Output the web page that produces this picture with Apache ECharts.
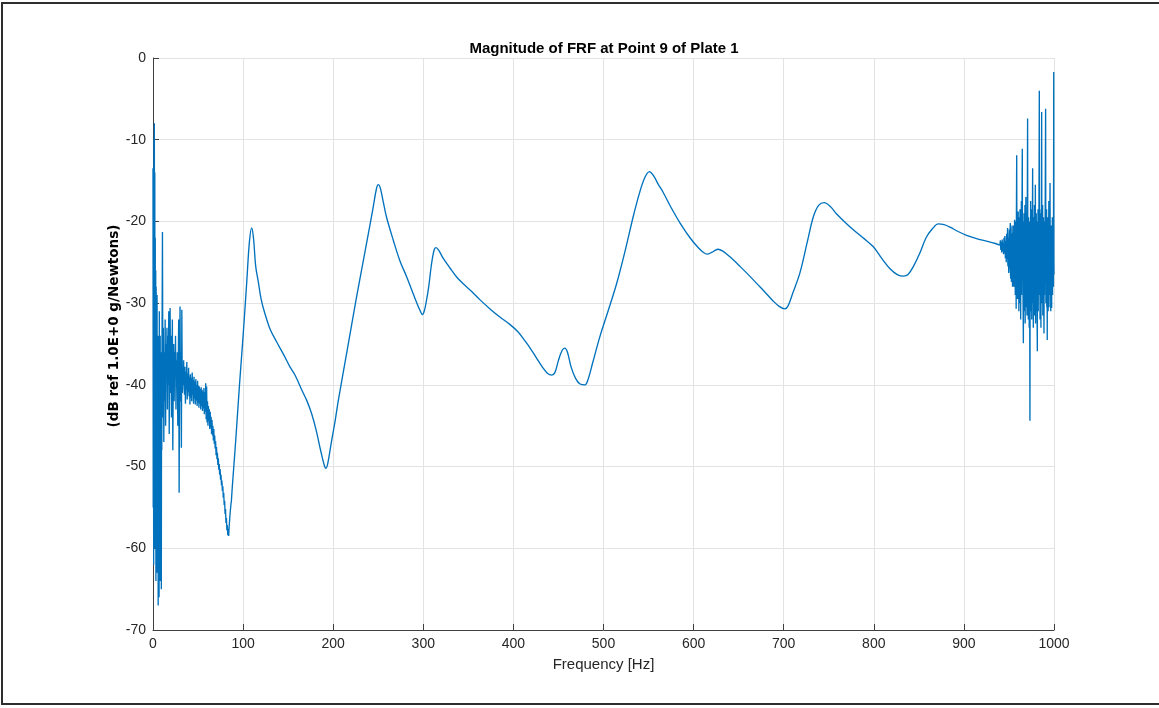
<!DOCTYPE html>
<html>
<head>
<meta charset="utf-8">
<title>Magnitude of FRF at Point 9 of Plate 1</title>
<script src="https://cdn.jsdelivr.net/npm/echarts@6/dist/echarts.min.js"></script>
<style>
  html, body { margin: 0; padding: 0; background: #ffffff; overflow: hidden; }
  #frame {
    position: absolute; left: 1px; top: 2px; width: 1180px; height: 703px;
    border: 2px solid #2e2e2e; box-sizing: border-box; pointer-events: none;
  }
  #chart { position: absolute; left: 0; top: 0; width: 1159px; height: 708px; }
</style>
</head>
<body>
<div id="chart"></div>
<div id="frame"></div>
<script>
// Axis ticks
const freqTicks = [0, 100, 200, 300, 400, 500, 600, 700, 800, 900, 1000];
const magTicks = [-70, -60, -50, -40, -30, -20, -10, 0];

// Low-frequency band [Hz, dB]: noisy start and the first anti-resonance
const lowBandPts = [
  [0,-13.5],[0.25,-55],[0.5,-24],[0.75,-62],[1,-10],[1.25,-48],[1.5,-8],[1.75,-45],
  [2,-14],[2.25,-60],[2.5,-22],[2.75,-52],[3,-26],[3.25,-64],[3.5,-28],[3.75,-50],
  [4,-32],[4.25,-63],[4.5,-29],[4.75,-55],[5,-36],[5.25,-61],[5.5,-34],[5.75,-67],
  [6,-38],[6.25,-58],[6.5,-35],[6.75,-66],[7,-31],[7.25,-52],[7.5,-38],[7.75,-61],
  [8,-34],[8.25,-64],[8.5,-40],[8.75,-55],[9,-37],[9.25,-65],[9.5,-36],[9.75,-48],
  [10,-35],[10.5,-21.3],[11,-44],[11.5,-33],[12,-47],[12.5,-36],[13,-42],[13.5,-32],
  [14,-45],[14.5,-35],[15,-39],[15.5,-33],[16,-43],[16.5,-34],[17,-40],[17.5,-31],
  [18,-46],[18.5,-36],[19,-30.6],[19.5,-41],[20,-34],[20.5,-44],[21,-37],[21.5,-32],
  [22,-48],[22.5,-38],[23,-35],[23.5,-42],[24,-36],[24.5,-39],[25,-34],[25.5,-43],
  [26,-37],[26.5,-40],[27,-36],[27.5,-45],[28,-38],[28.5,-32],[29,-53.2],[29.5,-39],
  [30,-30.4],[30.5,-42],[31,-36],[31.5,-47.7],[32,-30.8],[32.5,-41],[33,-38],[33.5,-40],
  [34,-37],[34.5,-40.5],
  [35,-41.2],[35.5,-37.8],[36,-42.3],[36.5,-38.4],[37,-40.6],[37.5,-37.2],[38,-41.8],[38.5,-38.6],
  [39,-40.9],[39.5,-37.9],[40,-41.4],[40.5,-39],[41,-42.4],[41.5,-38.7],[42,-41.6],[42.5,-39.2],
  [43,-42],[43.5,-38.5],[44,-41.2],[44.5,-39.4],[45,-42.3],[45.5,-39],[46,-41.7],[46.5,-39.6],
  [47,-42.4],[47.5,-39.3],[48,-41.9],[48.5,-40],[49,-42.6],[49.5,-39.5],[50,-42.2],[50.5,-40.1],
  [51,-42.8],[51.5,-40.2],[52,-42.3],[52.5,-40.5],[53,-43],[53.5,-40.3],[54,-42.6],[54.5,-40.6],
  [55,-43.2],[55.5,-40.8],[56,-42.9],[56.5,-40.4],[57,-43.6],[57.5,-40.9],[58,-43.3],[58.5,-39.8],
  [59,-44.2],[59.5,-40.2],[60,-44.6],[60.5,-42],[61,-45],[61.5,-42.6],[62,-44.4],[62.5,-43],
  [63,-45.4],[63.5,-43.3],[64,-45.2],[64.5,-43.9],[65,-46],[65.5,-44.3],[66,-46.2],[66.5,-45],
  [67,-46.8],[67.5,-45.4],[68,-47.2],[68.5,-46.2],[69,-47.8],[69.5,-46.9],[70,-48.6],[70.5,-47.6],
  [71,-49.1],[71.5,-48.3],[72,-49.8],[72.5,-49],[73,-50.4],[73.5,-49.7],[74,-51],[74.5,-50.3],
  [75,-51.6],[75.5,-51],[76,-52.3],[76.5,-51.7],[77,-53],[77.5,-52.4],[78,-53.8],[78.5,-53.2],
  [79,-54.7],[79.5,-54.2],[80,-55.8],[80.5,-55.2],[81,-56.9],[81.5,-56.3],[82,-57.8],[82.5,-57.2],
  [83,-58.4],[83.5,-57.6],[84,-58.5],[84.5,-57.4],[85,-57.2],[85.5,-55.8],[86,-56],[86.5,-54.6],
  [87,-54.2],[88,-52.5]
];

// Mid band [Hz, dB]: clean resonances and anti-resonances
const midBandPts = [
  [88,-52.5],[92,-46.5],[96,-40],[100,-34],[104,-27.5],[107,-22.5],[109.5,-20.8],[111.5,-22],
  [114,-25.5],[116.9,-27.4],[120,-29.5],[124,-31.2],[130,-33.2],[137,-34.7],[145,-36.3],
  [152,-37.8],[157.6,-38.8],[165,-40.6],[170.6,-41.9],[176,-43.5],[181,-45.5],[186,-48],
  [190,-49.8],[192,-50.2],[194,-49.6],[198,-47],[202,-44.5],[205.7,-41.9],[215,-36.1],
  [226,-29.2],[237,-22.7],[244,-18.5],[248,-16],[250,-15.5],[252,-15.8],[255,-17.3],
  [259,-19.4],[266.7,-22.3],[274,-24.8],[281.6,-26.8],[290,-29.2],[296,-30.8],[299,-31.4],
  [301,-31],[303,-30],[306,-28],[309,-25.3],[312,-23.5],[314,-23.2],[317,-23.5],[322,-24.5],
  [329.6,-25.7],[337,-26.8],[344,-27.6],[354,-28.6],[363,-29.6],[375,-30.8],[385,-31.7],
  [396,-32.6],[405,-33.5],[412,-34.5],[418,-35.4],[425,-36.6],[432,-37.8],[438,-38.6],
  [442.5,-38.8],[446,-38.5],[450,-37],[454,-35.8],[457,-35.5],[460,-36],[464,-37.8],
  [469,-39.2],[474,-39.9],[479.5,-40],[483,-39.3],[488,-37.3],[496,-34.1],[505,-31],
  [514.6,-27.6],[524,-23.6],[533,-19.4],[540,-16.5],[546,-14.6],[551,-13.9],[556,-14.5],
  [561,-15.5],[566,-16.4],[575,-18.3],[585,-20.2],[596,-22],[605,-23.2],[611,-23.8],
  [615,-24],[620,-23.8],[627,-23.4],[632,-23.6],[640,-24.3],[651.5,-25.5],[665,-27],
  [677,-28.4],[688,-29.7],[695,-30.4],[701.4,-30.7],[705,-30.3],[710,-28.8],[718,-26.3],
  [726,-22.6],[733,-19.4],[739,-18],[745,-17.7],[752,-18.2],[758.8,-19.1],[768,-20.1],
  [777,-21],[788,-22],[799.5,-23.1],[808,-24.4],[818,-25.8],[826,-26.5],[833,-26.7],
  [838,-26.5],[844,-25.5],[851,-23.9],[858,-22],[865,-20.9],[871.6,-20.3],[878,-20.4],
  [884.6,-20.7],[893,-21.2],[903,-21.7],[914,-22.1],[925,-22.4],[935,-22.7],[940,-22.9]
];

// High band [Hz, dB]: noisy tail up to 1 kHz
const highBandPts = [
  [940,-22.9],[940.5,-22.3],[941,-23.5],[941.5,-22.5],[942,-23.8],[942.5,-22.2],[943,-23.6],
  [943.5,-22.6],[944,-24],[944.5,-22],[945,-23.9],[945.5,-21.8],[946,-24.5],[946.5,-22.4],
  [947,-25],[947.25,-22.8],[947.5,-21.5],[947.75,-24.6],[948,-24.2],[948.25,-21.9],[948.5,-20.8],
  [948.75,-25.2],[949,-25.5],[949.25,-22.4],[949.5,-22],[949.75,-26.3],[950,-26],[950.25,-21.6],
  [950.5,-21],[950.75,-25.8],[951,-25],[951.25,-21.2],[951.5,-20.2],[951.75,-26.6],[952,-27],
  [952.25,-22.3],[952.5,-21.5],[952.75,-27.4],[953,-26.2],[953.25,-20.9],[953.5,-20.5],
  [953.75,-26.8],[954,-28],[954.25,-21.4],[954.5,-22],[954.75,-27.3],
  [955,-26.5],[955.25,-20.5],[955.5,-28],[955.75,-21.5],[956,-27.8],[956.25,-19.8],[956.5,-25.5],
  [956.75,-22],[957,-29],[957.25,-20],[957.5,-26.8],[957.75,-21.2],[958,-30.7],[958.3,-19],
  [958.6,-11.9],[958.9,-27],[959.2,-21],[959.5,-29.5],[959.75,-20.5],[960,-27.5],[960.25,-18.8],
  [960.5,-29],[960.75,-22],[961,-31],[961.25,-19.5],[961.5,-26.5],[961.75,-21],[962,-30],
  [962.25,-18.5],[962.5,-28.5],[962.75,-20.5],[963,-32],[963.25,-20],[963.5,-27],[963.75,-17.5],
  [964,-29],[964.4,-21],[964.8,-11.1],[965.1,-27],[965.4,-20],[965.7,-30],[966,-34.9],
  [966.25,-21],[966.5,-28],[966.75,-19],[967,-31],[967.25,-20.5],[967.5,-27.5],[967.75,-18],
  [968,-32.5],[968.25,-21.5],[968.5,-29],[968.75,-17],[969,-30.5],[969.25,-20],[969.5,-27],
  [969.75,-19],[970,-31.5],[970.35,-18.5],[970.7,-7.4],[971,-29],[971.25,-20],[971.5,-32],
  [971.75,-19.5],[972,-28],[972.25,-21],[972.5,-33],[972.75,-20],[973,-29],[973.3,-44.4],
  [973.55,-22],[973.8,-27],[974.05,-17.5],[974.3,-31],[974.55,-20],[974.8,-29.5],[975.05,-18.5],
  [975.3,-32],[975.55,-21],[975.8,-28],[976.05,-19],[976.3,-13.5],[976.55,-30],[976.8,-22],
  [977.05,-33],[977.3,-19.5],[977.55,-29],[977.8,-21],[978.05,-31.5],[978.3,-18],[978.55,-27.5],
  [978.8,-20.5],[979.05,-30],[979.3,-15.5],[979.55,-32.5],[979.8,-21],[980.05,-28],[980.3,-19],
  [980.55,-31],[980.8,-22],[981.05,-29.5],[981.5,-35.9],[981.75,-20],[982,-28],[982.25,-18.5],
  [982.5,-31],[982.75,-21],[983,-27],[983.35,-17],[983.7,-4],[984,-29],[984.25,-20.5],
  [984.5,-32],[984.75,-19],[985,-28.5],[985.25,-22],[985.5,-33],[985.75,-18.5],[986,-27],
  [986.3,-6.6],[986.6,-30],[986.85,-20],[987.1,-28],[987.35,-18],[987.6,-31.5],[987.85,-21],
  [988.1,-29],[988.35,-19.5],[988.6,-27],[988.9,-33.7],[989.15,-20],[989.4,-29],[989.65,-21.5],
  [989.9,-27.5],[990.2,-19],[990.7,-6.2],[991,-30],[991.25,-20],[991.5,-28],[991.75,-18.5],
  [992,-30.5],[992.25,-21],[992.5,-34.5],[992.75,-22],[993,-28.5],[993.25,-19.5],[993.5,-31],
  [993.75,-21.5],[994,-27],[994.25,-17.5],[994.5,-30.5],[994.75,-20],[995,-28],[995.3,-21],
  [995.6,-15.3],[995.9,-29],[996.15,-22],[996.4,-31],[996.65,-21],[996.9,-28],[997.15,-20.5],
  [997.4,-30.6],[997.65,-22],[997.9,-28.5],[998.15,-19.5],[998.4,-29],[998.65,-21.5],
  [998.9,-27.5],[999.15,-20],[999.4,-28],[999.7,-1.7],[999.85,-25],[1000,-26.5]
];

const lineColor = '#0072BD';
const axisColor = '#404040';
const textColor = '#262626';
const gridColor = '#e3e3e3';
const fontFamily = '"Liberation Sans", Arial, Helvetica, sans-serif';

const chart = echarts.init(document.getElementById('chart'), null, { renderer: 'canvas' });

const baseSeries = {
  type: 'line',
  showSymbol: false,
  symbol: 'none',
  sampling: null,
  lineStyle: { color: lineColor, width: 1.35 },
  itemStyle: { color: lineColor },
  emphasis: { disabled: true },
  z: 3
};

chart.setOption({
  animation: false,
  backgroundColor: '#ffffff',
  title: {
    text: 'Magnitude of FRF at Point 9 of Plate 1',
    left: 599, top: 36, textAlign: 'center',
    textStyle: { fontFamily, fontSize: 15, fontWeight: 'bold', color: '#000000' }
  },
  graphic: [{
    type: 'text',
    x: 114, y: 326,
    rotation: Math.PI / 2,
    style: {
      text: '(dB ref 1.0E+0 g/Newtons)',
      fill: '#000000',
      font: 'bold 13.5px "DejaVu Sans", sans-serif',
      align: 'center',
      verticalAlign: 'middle'
    }
  }],
  grid: { left: 153, right: 105, top: 58, bottom: 78, containLabel: false },
  xAxis: {
    type: 'value',
    min: freqTicks[0], max: freqTicks[freqTicks.length - 1], interval: 100,
    name: 'Frequency [Hz]',
    nameLocation: 'middle', nameGap: 27,
    nameTextStyle: { fontFamily, fontSize: 15, color: textColor },
    axisLine: { show: true, onZero: false, lineStyle: { color: axisColor, width: 1 } },
    axisTick: { show: true, inside: true, length: 6, lineStyle: { color: axisColor } },
    axisLabel: { fontFamily, fontSize: 14, color: textColor, margin: 7,
                 formatter: v => String(v) },
    splitLine: { show: true, lineStyle: { color: gridColor, width: 1 } }
  },
  yAxis: {
    type: 'value',
    min: magTicks[0], max: magTicks[magTicks.length - 1], interval: 10,
    axisLine: { show: true, onZero: false, lineStyle: { color: axisColor, width: 1 } },
    axisTick: { show: true, inside: true, length: 6, lineStyle: { color: axisColor } },
    axisLabel: { fontFamily, fontSize: 14, color: textColor, margin: 7,
                 formatter: v => String(v) },
    splitLine: { show: true, lineStyle: { color: gridColor, width: 1 } }
  },
  series: [
    Object.assign({}, baseSeries, { name: 'low', data: lowBandPts }),
    Object.assign({}, baseSeries, { name: 'mid', data: midBandPts, smooth: 0.35 }),
    Object.assign({}, baseSeries, { name: 'high', data: highBandPts })
  ]
});
</script>
</body>
</html>
